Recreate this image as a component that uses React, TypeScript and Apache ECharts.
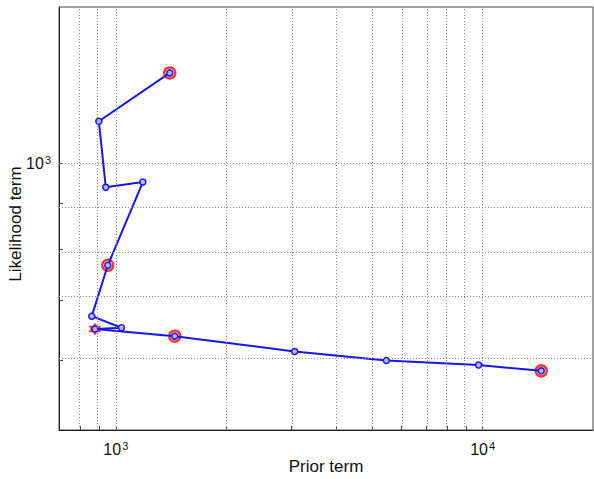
import React, { useEffect, useRef } from "react";
import * as echarts from "echarts";

const priorTerm = [1403, 899, 939, 1185, 951, 860, 1036, 877, 1448, 3074, 5466, 9750, 14450];
const likelihoodTerm = [1264, 1115, 939, 952, 767, 672, 652, 650, 638, 613, 599, 592, 583];
const ringIndices = [0, 4, 8, 12];
const starIndex = 7;

const xMin = 700;
const xMax = 20000;
const yMin = 500;
const yMax = 1500;
const xGridValues = [800, 900, 1000, 2000, 3000, 4000, 5000, 6000, 7000, 8000, 9000, 10000];
const yGridValues = [600, 700, 800, 900, 1000];
const xMajorTicks = [1000, 10000];
const yMajorTicks = [1000];

const L = (v: number) => Math.log10(v);

const STAR =
  "path://M0,-10L2.9,-5L8.66,-5L5.8,0L8.66,5L2.9,5L0,10L-2.9,5L-8.66,5L-5.8,0L-8.66,-5L-2.9,-5Z";

const FONT = "'Liberation Sans', Arial, Helvetica, sans-serif";

export default function App() {
  const ref = useRef<HTMLDivElement>(null);
  useEffect(() => {
    if (!ref.current) return;
    const chart = echarts.init(ref.current, null, { renderer: "svg" });
    const points = priorTerm.map((x, i) => [L(x), L(likelihoodTerm[i])]);
    const supFmt = (v: number) => `{b|10}{s|${Math.round(v)}}`;
    const rich = {
      b: { fontSize: 16, fontFamily: FONT, color: "#111", lineHeight: 18 },
      s: { fontSize: 11, fontFamily: FONT, color: "#111", lineHeight: 18, verticalAlign: "top", padding: [0, 0, 8, 1] },
    };
    const gridStyle = { type: [1, 2] as any, color: "#888", width: 1 };
    chart.setOption({
      animation: false,
      grid: { left: 59, top: 7, right: 1, bottom: 49, show: true, borderColor: "#444", borderWidth: 1 },
      xAxis: {
        type: "value",
        min: L(xMin),
        max: L(xMax),
        splitLine: { show: false },
        axisLine: { lineStyle: { color: "#222", width: 1 } },
        axisTick: {
          inside: true,
          length: 4,
          customValues: xGridValues.map(L),
          lineStyle: { color: "#444" },
        },
        axisLabel: {
          customValues: xMajorTicks.map(L),
          formatter: supFmt,
          fontSize: 16,
          fontFamily: FONT,
          rich,
          margin: 10,
        },
      },
      yAxis: {
        type: "value",
        min: L(yMin),
        max: L(yMax),
        splitLine: { show: false },
        axisLine: { lineStyle: { color: "#222", width: 1 } },
        axisTick: {
          inside: true,
          length: 4,
          customValues: yGridValues.map(L),
          lineStyle: { color: "#444" },
        },
        axisLabel: {
          customValues: yMajorTicks.map(L),
          formatter: supFmt,
          fontSize: 16,
          fontFamily: FONT,
          rich,
          margin: 8,
        },
      },
      graphic: [
        {
          type: "text",
          x: 326,
          y: 466,
          style: { text: "Prior term", font: `17px ${FONT}`, fill: "#111", align: "center", verticalAlign: "middle" },
        },
        {
          type: "text",
          x: 15,
          y: 224,
          rotation: Math.PI / 2,
          style: { text: "Likelihood term", font: `17px ${FONT}`, fill: "#111", align: "center", verticalAlign: "middle" },
        },
      ],
      series: [
        {
          type: "line",
          data: [],
          silent: true,
          z: 1,
          markLine: {
            silent: true,
            symbol: "none",
            label: { show: false },
            lineStyle: gridStyle,
            animation: false,
            data: [
              ...xGridValues.map((v) => ({ xAxis: L(v) })),
              ...yGridValues.map((v) => ({ yAxis: L(v) })),
            ],
          },
        },
        {
          type: "scatter",
          z: 2,
          data: ringIndices.map((i) => points[i]),
          symbol: "circle",
          symbolSize: 11,
          itemStyle: { color: "rgba(255,255,255,0)", borderColor: "#ff0000", borderWidth: 2.4 },
          silent: true,
        },
        {
          type: "scatter",
          z: 2,
          data: [points[starIndex]],
          symbol: STAR,
          symbolSize: 12,
          itemStyle: { color: "#ff1010", borderColor: "#ff1010", borderWidth: 0.5 },
          silent: true,
        },
        {
          type: "line",
          z: 3,
          data: points,
          symbol: "circle",
          symbolSize: 6,
          showAllSymbol: true,
          lineStyle: { color: "#1515f0", width: 2 },
          itemStyle: { color: "#b8b8ff", borderColor: "#1515f0", borderWidth: 1.5 },
          silent: true,
        },
      ],
    });
    return () => chart.dispose();
  }, []);
  return (
    <div
      ref={ref}
      style={{ position: "absolute", left: 0, top: 0, width: 594, height: 479, background: "#fff" }}
    />
  );
}
